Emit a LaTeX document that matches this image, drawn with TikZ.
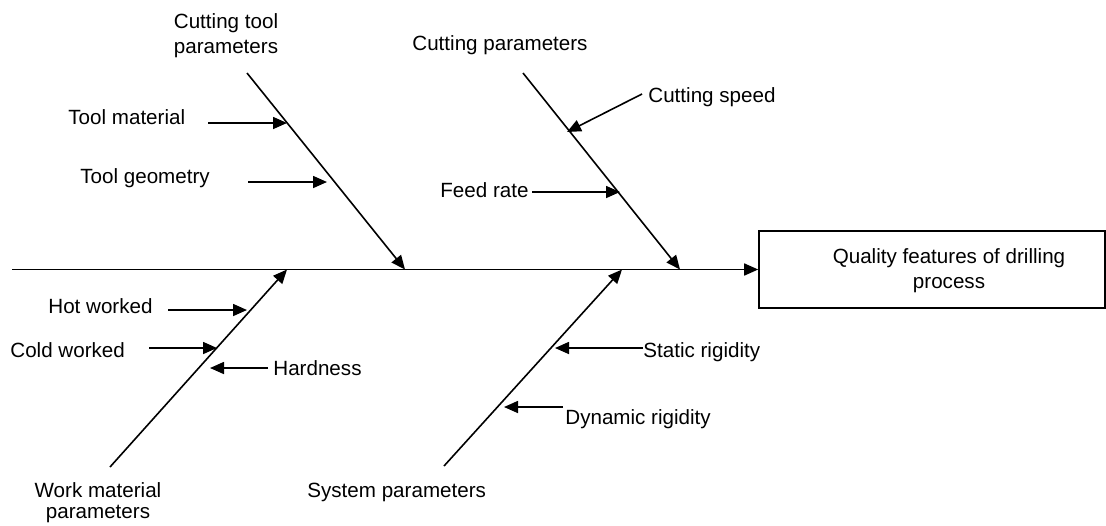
\documentclass[tikz,border=0pt]{standalone}
\usepackage{fontspec}
\setmainfont{Liberation Sans}
\usetikzlibrary{arrows.meta,positioning}

\begin{document}
\begin{tikzpicture}[
    x=0.5pt, y=-0.5pt,
    font=\fontsize{10.3}{12.5}\selectfont,
    label/.style={inner sep=0pt, anchor=base west},
    cause/.style={inner sep=0pt, align=center, anchor=base},
    bone/.style={line width=0.8pt},
    arrow/.style={-{Triangle[length=7pt,width=6pt]}, line width=0.8pt},
    effect/.style={rectangle, draw, line width=0.8pt, minimum width=173pt, minimum height=38.5pt, inner sep=0pt}
]
    \useasboundingbox (0,0) rectangle (1106,525);

    % Effect
    \node[effect] (quality) at (932,269.5) {};
    \node[align=center, inner sep=0pt] (qualitytext) at (949,271) {Quality features of drilling\\process};

    % Main spine
    \coordinate (tail) at (12,269.5);
    \draw[arrow] (tail) -- (quality.west);

    % Main causes
    \node[cause] (ctool) at (226,53) {Cutting tool\\parameters};
    \node[label] (cparam) at (412,50) {Cutting parameters};
    \node[cause] (work) at (98,518) {Work material\\[-2pt]parameters};
    \node[label] (system) at (307,497) {System parameters};

    \coordinate (ctoolstart) at (247,73);
    \coordinate (ctoolend) at (405,269.5);
    \coordinate (cparamstart) at (523,73);
    \coordinate (cparamend) at (680,269.5);
    \coordinate (workstart) at (110,467);
    \coordinate (workend) at (287,269.5);
    \coordinate (sysstart) at (444,466);
    \coordinate (sysend) at (622,269.5);

    \draw[arrow] (ctoolstart) -- (ctoolend);
    \draw[arrow] (cparamstart) -- (cparamend);
    \draw[arrow] (workstart) -- (workend);
    \draw[arrow] (sysstart) -- (sysend);

    % Sub causes
    \node[label] (toolmat) at (68,124) {Tool material};
    \node[label] (toolgeo) at (80,183) {Tool geometry};
    \node[label] (cspeed) at (648,102) {Cutting speed};
    \node[label] (feed) at (440,197) {Feed rate};
    \node[label] (hot) at (48,313) {Hot worked};
    \node[label] (cold) at (10,357) {Cold worked};
    \node[label] (hard) at (273,375) {Hardness};
    \node[label] (static) at (643,357) {Static rigidity};
    \node[label] (dynamic) at (565,424) {Dynamic rigidity};

    \coordinate (tm1) at (208,123);  \coordinate (tm2) at (287,123);
    \coordinate (tg1) at (248,182);  \coordinate (tg2) at (327,182);
    \coordinate (cs1) at (642,94);   \coordinate (cs2) at (567,132);
    \coordinate (fr1) at (532,192);  \coordinate (fr2) at (620,192);
    \coordinate (hw1) at (168,310);  \coordinate (hw2) at (247,310);
    \coordinate (cw1) at (149,348);  \coordinate (cw2) at (217,348);
    \coordinate (hd1) at (268,368);  \coordinate (hd2) at (210,368);
    \coordinate (sr1) at (643,348);  \coordinate (sr2) at (555,348);
    \coordinate (dr1) at (563,407);  \coordinate (dr2) at (504,407);

    \draw[arrow] (tm1) -- (tm2);
    \draw[arrow] (tg1) -- (tg2);
    \draw[arrow] (cs1) -- (cs2);
    \draw[arrow] (fr1) -- (fr2);
    \draw[arrow] (hw1) -- (hw2);
    \draw[arrow] (cw1) -- (cw2);
    \draw[arrow] (hd1) -- (hd2);
    \draw[arrow] (sr1) -- (sr2);
    \draw[arrow] (dr1) -- (dr2);
\end{tikzpicture}
\end{document}
